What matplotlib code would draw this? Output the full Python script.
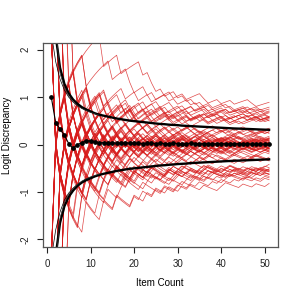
import numpy as np
import matplotlib.pyplot as plt

plt.rcParams['font.family'] = ['Liberation Sans', 'DejaVu Sans']

# simulated response strings (1 = correct), one per red trace, items 1..51
responses = [
    "1110010001 1011100100 0110111001 0011000111 0100110110 1",
    "0011101100 0100011110 1100100011 1011000101 1100011010 0",
    "1101100111 0110111010 0111101100 1101110110 1011100111 0",
    "0001101000 1100010010 0011000101 1000110001 0010011000 1",
    "1000111011 0011100010 1101100011 1001011100 0110011101 1",
    "0110001100 1110011001 0001101110 0100111000 1101100010 0",
    "1011110001 1000111011 1001100011 1101001110 0011011100 1",
    "0100011011 1001000110 0110001110 0011010001 1100100110 0",
    "1111100110 1110110011 1011100111 0110111011 1001110101 1",
    "0000110010 0011000100 1100010001 1000100110 0010001100 0",
    "1100011101 1100010011 1000111001 1101100010 1110001101 0",
    "0011100010 0111001100 0111000110 0010011101 0001110010 1",
    "1001101110 0011101100 1110011010 0011100111 0110001110 1",
    "0110010001 1100010011 0001100101 1100011000 1001110001 0",
    "1110110011 1001110110 0111001101 1100111010 0111011001 1",
    "0001001100 0110001001 1000100011 0001100100 0110001001 0",
    "1011000111 0100111000 1011001110 0100011101 1000111010 1",
    "0100111000 1011000111 0100110001 1011100010 0111000101 0",
    "1100111100 0111011100 1110011011 0001110111 0011101100 1",
    "0011000011 1000100011 0001100100 1110001000 1100010011 0",
    "1111011100 1101111011 0110111101 1011100110 1101110011 1",
    "0010000110 0001001100 0100001001 1000010001 1000100100 1",
    "1000110011 1010001110 0011011000 1110010011 1000110110 0",
    "0111001100 0101110011 1100100111 0001101100 0111001001 1",
    "1100100011 1100111001 0001110110 0111000111 0010011100 1",
    "0011011100 0011000110 1110001001 1000111000 1101100011 0",
    "1010111001 1101100111 0011011110 0111011001 1100111011 0",
    "0101000110 0010011000 1100100001 1000110001 0010001100 1",
    "1001110001 1001101100 0111001100 0111011000 1100111001 1",
    "0110001110 0110010011 1000110011 1000100111 0011000110 0",
    "1100011011 1000111101 1001110011 0110011100 1101100011 1",
    "0011100100 0111000010 0110001100 1001100011 0010011100 0",
    "1110001100 1110011000 1110011001 1100011011 0001101100 1",
    "0001110011 0001100111 0001100110 0011100100 1110010011 0",
    "1011101110 0111011100 1101110011 1011100111 0110111001 1",
    "0100010001 1000100011 0010001100 0100011000 1001000110 0",
    "1100110001 1100011100 1100110001 1001110001 1100110011 0",
    "0011001110 0011100011 0011001110 0110001110 0011001100 1",
    "1101110110 1100111011 0111011100 1110110011 1011100110 1",
    "0010001001 0011000100 1000100011 0001001100 0100011001 0",
    "1001100111 0001110010 0111001100 1011000111 0010011100 1",
    "0110011000 1110001101 1000110011 0100111000 1101100011 0",
    "1110011100 0111000111 0011100011 1001110001 1100111000 1",
    "0001100011 1000111000 1100011100 0110001110 0011000111 0",
    "1011011101 1100101110 1100111011 0011101100 1110110101 1",
    "0100100010 0011010001 0011000100 1100010011 0001001010 0",
    "1100111000 1101100011 1000110110 0011100110 1100011001 1",
    "0011000111 0010011100 0111001001 1100011001 0011100110 0",
    "1101100111 1001101110 0110111001 1101100111 0011011101 1",
    "0010011000 0110010001 1001000110 0010011000 1100100010 0",
    "1000111001 1100011011 0001110011 1000110011 1000111001 1",
    "0111000110 0011100100 1110001100 0111001100 0111000110 0",
    "1110001101 1100111001 1100011100 1110010011 1001110011 0",
    "0001110010 0011000110 0011100011 0001101100 0110001100 1",
    "1011100111 0111001101 1101110011 1001110111 0011101100 1",
    "0100011000 1000110010 0010001100 0110001000 1100010011 0",
    "1100110011 1000110011 1001100011 1001100111 0001100110 1",
    "0011001100 0111001100 0110011100 0110011000 1110011001 0",
    "1001111001 1100111000 1110011001 1100011101 1001110011 1",
    "0110000110 0011000111 0001100110 0011100010 0110001100 0",
    "1111001110 1110011101 1100111011 1001110111 0011101110 1",
    "0000110001 0001100010 0011000100 0110001000 1100010001 0",
    "1000110111 0011100110 0011101100 1110011000 1110011001 1",
    "0111001000 1100011001 1100010011 0001100111 0001100110 0",
    "1101001100 1110011000 1101100111 0001110011 0110011100 1",
    "0010110011 0001100111 0010011000 1110001100 1001100011 0",
    "1010011100 0111001110 0011100011 1001110010 0111001110 0",
    "0101100011 1000110001 1100011100 0110001101 1000110001 1",
    "1100111011 0011101110 0110111001 1101100111 0011101101 1",
    "0011000100 1100010001 1001000110 0010011000 1100010010 0",
    "1110011000 1110001100 1110001110 0011100011 1000111000 1",
    "0001100111 0001110011 0001110001 1100011100 0111000111 0",
    "1111101111 1101110111 1010010110 1010100101 1011010011 0",
    "1011111101 1111011100 1101011010 1101011011 0101101101 1",
    "0100000100 0010010001 0100101001 0010100101 0010100101 0",
    "0001000010 0100010001 0010100100 1011010010 1010101101 1",
]

# logit of each respondent's true proportion (shifts each trace)
true_logit = [0.02, -0.05, 0.04, -0.01, 0.06, -0.03, 0.01, -0.07, 0.03, -0.02, 0.05, -0.04,
              0.00, 0.07, -0.06, 0.02, -0.01, 0.04, -0.08, 0.05, -0.02, 0.04, -0.06, 0.01,
              0.06, -0.04, 0.02, 0.00, 0.06, -0.05, 0.03, -0.02, 0.08, -0.04, 0.00, -0.06,
              0.04, -0.03, 0.02, -0.07, 0.05, -0.01, 0.07, -0.04, 0.01, -0.06, 0.03, -0.02,
              0.06, -0.03, 0.00, -0.05, 0.04, -0.01, 0.04, -0.06, 0.06, -0.02, 0.01, -0.04,
              0.07, -0.04, 0.02, -0.06, 0.05, 0.00, 0.03, -0.05, 0.02, -0.03, 0.06, -0.02,
              0.02, -0.01, 0.01, -0.02]

# mean discrepancy (dotted black line with points), items 1..51
mean_disc = [1.00, 0.46, 0.33, 0.20, 0.02, -0.08, 0.00, 0.04, 0.08, 0.08,
             0.06, 0.04, 0.04, 0.03, 0.04, 0.03, 0.03, 0.04, 0.03, 0.03,
             0.03, 0.02, 0.03, 0.03, 0.02, 0.03, 0.02, 0.02, 0.03, 0.02,
             0.02, 0.02, 0.03, 0.02, 0.02, 0.02, 0.02, 0.01, 0.02, 0.02,
             0.02, 0.01, 0.02, 0.02, 0.01, 0.02, 0.01, 0.01, 0.01, 0.01, 0.01]

# envelope curves, items 2..51
upper_main = [2.30, 1.62, 1.28, 1.08, 0.95, 0.86, 0.79, 0.74, 0.70, 0.66,
              0.63, 0.61, 0.59, 0.57, 0.55, 0.535, 0.52, 0.505, 0.495, 0.485,
              0.475, 0.465, 0.455, 0.445, 0.435, 0.43, 0.42, 0.415, 0.41, 0.40,
              0.395, 0.39, 0.385, 0.38, 0.375, 0.37, 0.365, 0.36, 0.355, 0.35,
              0.345, 0.34, 0.337, 0.333, 0.33, 0.326, 0.322, 0.318, 0.315, 0.312]
lower_main = [-2.35, -1.65, -1.30, -1.10, -0.97, -0.87, -0.80, -0.75, -0.71, -0.67,
              -0.64, -0.615, -0.595, -0.575, -0.555, -0.54, -0.525, -0.51, -0.50, -0.49,
              -0.48, -0.47, -0.46, -0.45, -0.44, -0.435, -0.425, -0.42, -0.41, -0.405,
              -0.40, -0.39, -0.385, -0.38, -0.375, -0.37, -0.365, -0.36, -0.355, -0.35,
              -0.345, -0.34, -0.337, -0.333, -0.33, -0.326, -0.322, -0.318, -0.315, -0.31]
# thinner curves diverging at the start, items 1..12 and 2..12
upper_thin_a = [2.35, 1.75, 1.38, 1.15, 1.00, 0.90, 0.82, 0.77, 0.72, 0.69, 0.66, 0.63]
upper_thin_b = [2.50, 1.50, 1.20, 1.02, 0.90, 0.82, 0.76, 0.72, 0.68, 0.65, 0.62]
lower_thin_a = [-2.40, -1.80, -1.42, -1.17, -1.02, -0.92, -0.84, -0.78, -0.73, -0.69, -0.66, -0.63]
lower_thin_b = [-2.55, -1.55, -1.22, -1.04, -0.92, -0.84, -0.77, -0.72, -0.68, -0.65, -0.62]

x_ticks = [0, 10, 20, 30, 40, 50]
y_ticks = [-2, -1, 0, 1, 2]

fig = plt.figure(figsize=(3, 3), dpi=100)
ax = fig.add_axes([0.142, 0.178, 0.784, 0.68])

# red traces: logit of running proportion correct minus true logit
for s, t in zip(responses, true_logit):
    r = np.array([int(c) for c in s.replace(" ", "")])
    n = np.arange(1, len(r) + 1)
    k = np.cumsum(r)
    p = (k + 0.1) / (n + 0.2)
    ax.plot(n, np.log(p / (1 - p)) - t, color='#d81c1c', lw=0.5, alpha=0.8)

x_env = np.arange(2, 52)
ax.plot(x_env, upper_main, color='black', lw=1.7)
ax.plot(x_env, lower_main, color='black', lw=1.7)
ax.plot(np.arange(1, 13), upper_thin_a, color='black', lw=0.5)
ax.plot(np.arange(2, 13), upper_thin_b, color='#333333', lw=0.5)
ax.plot(np.arange(1, 13), lower_thin_a, color='black', lw=0.5)
ax.plot(np.arange(2, 13), lower_thin_b, color='#333333', lw=0.5)

x_mean = np.arange(1, len(mean_disc) + 1)
ax.plot(x_mean, mean_disc, color='black', lw=0.8, marker='o', ms=2.4)

ax.set_xlim(-1, 53)
ax.set_ylim(-2.15, 2.15)
ax.set_xticks(x_ticks)
ax.set_yticks(y_ticks)
ax.set_yticklabels([str(t) for t in y_ticks], rotation=90, va='center')
ax.tick_params(direction='out', length=4, width=0.8, labelsize=7, pad=5, colors='#222222')
for sp in ax.spines.values():
    sp.set_color('#555555')
    sp.set_linewidth(0.9)

fig.text(0.533, 0.057, 'Item Count', ha='center', va='center', fontsize=7)
fig.text(0.025, 0.55, 'Logit Discrepancy', ha='center', va='center', rotation=90, fontsize=7)

fig.savefig('out.png', dpi=100)
